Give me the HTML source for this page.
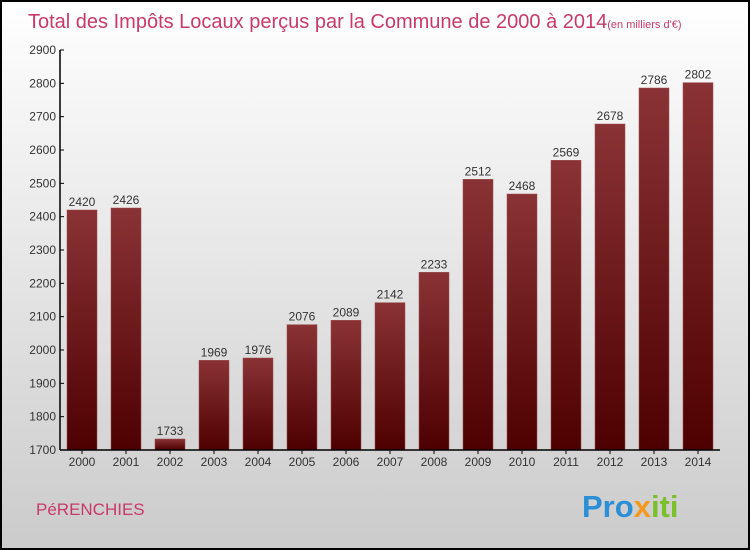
<!DOCTYPE html>
<html><head><meta charset="utf-8"><style>
body{margin:0}
#c{width:750px;height:550px;position:relative;overflow:hidden}
svg text{font-family:"Liberation Sans",sans-serif}
</style></head><body>
<div id="c">
<svg id="s" width="750" height="550" xmlns="http://www.w3.org/2000/svg">
<defs>
<linearGradient id="bg" x1="0" y1="0" x2="0" y2="1"><stop offset="0" stop-color="#ffffff"/><stop offset="1" stop-color="#cbcbcb"/></linearGradient>
<linearGradient id="bar" x1="0" y1="0" x2="0" y2="1"><stop offset="0" stop-color="#8a3336"/><stop offset="1" stop-color="#4e0000"/></linearGradient>
</defs>
<rect x="1" y="1" width="748" height="548" fill="url(#bg)" stroke="#000" stroke-width="2"/>
<text x="28" y="28" font-size="20" fill="#c8396a">Total des Impôts Locaux perçus par la Commune de 2000 à 2014<tspan font-size="11">(en milliers d'€)</tspan></text>
<text x="36" y="515" font-size="17" fill="#c8396a">PéRENCHIES</text>
<text x="582" y="517" font-size="31" font-weight="bold" fill="#2a8fd6">Pro<tspan fill="#f39a1e">x</tspan><tspan fill="#7bbf2a">iti</tspan></text>
<g id="plot"></g>
</svg>
</div>
<script>
const years=["2000","2001","2002","2003","2004","2005","2006","2007","2008","2009","2010","2011","2012","2013","2014"];
const values=[2420,2426,1733,1969,1976,2076,2089,2142,2233,2512,2468,2569,2678,2786,2802];
const yTicks=[1700,1800,1900,2000,2100,2200,2300,2400,2500,2600,2700,2800,2900];
const NS="http://www.w3.org/2000/svg";
const g=document.getElementById('plot');
const x0=60,x1=720,yTop=50,yBot=450,yMin=1700,yMax=2900;
const band=(x1-x0)/years.length;
const y=v=>yBot-(v-yMin)/(yMax-yMin)*(yBot-yTop);
const xc=i=>x0+band*(i+0.5);
function mk(t,a,txt){const e=document.createElementNS(NS,t);for(const k in a)e.setAttribute(k,a[k]);if(txt!==undefined)e.textContent=txt;g.appendChild(e);return e;}
values.forEach((v,i)=>{
 const r=mk('rect',{x:xc(i)-15,y:y(v),width:30,height:yBot-y(v),fill:'url(#bar)',stroke:'#9a4a4a','stroke-width':0.5});
 
 
 const l=mk('text',{x:xc(i),y:y(v)-4,'font-size':12,'text-anchor':'middle',fill:'#333'},String(v));
 
 
 const t=mk('text',{x:xc(i),y:466,'font-size':12,'text-anchor':'middle',fill:'#333'},years[i]);
 
 
 const tk=mk('line',{x1:xc(i),x2:xc(i),y1:yBot,y2:yBot+4,stroke:'#000'});
 
 
});
yTicks.forEach(v=>{
 const t=mk('text',{x:56,y:y(v)+4,'font-size':12,'text-anchor':'end',fill:'#333'},String(v));
 
 
 const tk=mk('line',{x1:x0,x2:x0+4,y1:y(v),y2:y(v),stroke:'#000'});
 
 
});
const ya=mk('line',{x1:x0,x2:x0,y1:yTop,y2:yBot,stroke:'#000','stroke-width':1.5});


const xa=mk('line',{x1:x0,x2:x1,y1:yBot,y2:yBot,stroke:'#000','stroke-width':1.5});


</script>
</body></html>
